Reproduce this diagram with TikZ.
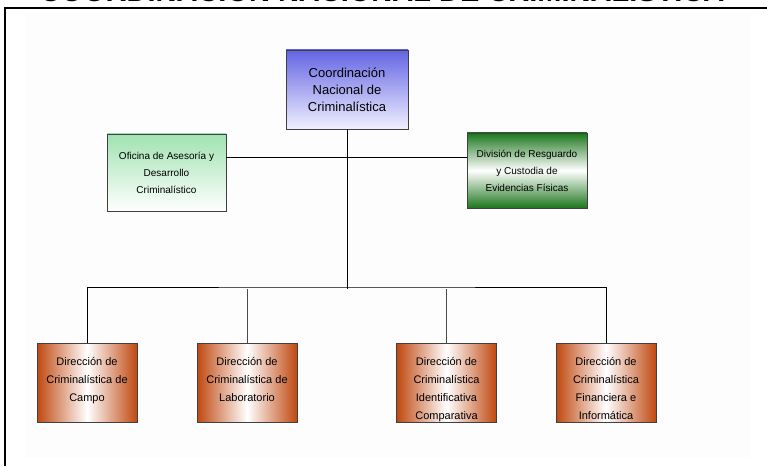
\documentclass[tikz,border=0pt]{standalone}
\usepackage{fontspec}
\setmainfont{Liberation Sans}
\definecolor{azul}{RGB}{100,100,228}
\definecolor{azulclaro}{RGB}{240,240,255}
\definecolor{verdeclaro}{RGB}{160,226,176}
\definecolor{verdeoscuro}{RGB}{28,118,28}
\definecolor{ladrillo}{RGB}{192,72,16}
\begin{document}
\begin{tikzpicture}[x=1pt,y=1pt,
caja/.style={draw=black!75,line width=0.8pt,align=center,inner sep=0pt},
dir/.style={caja,left color=ladrillo,right color=ladrillo,middle color=white,minimum width=100,minimum height=79},
dtxt/.style={anchor=north,yshift=-15,align=center,inner sep=0pt,font=\fontsize{11}{18}\selectfont}]
\useasboundingbox (0,0) rectangle (767,466);
\fill[black!0.7] (25,8) rectangle (750,451);
\draw[line width=2pt] (5,0) -- (5,458) -- (767,458);
\node[anchor=base,font=\bfseries\fontsize{29}{29}\selectfont] (titulo) at (382,464) {COORDINACIÓN NACIONAL DE CRIMINALÍSTICA};
\node[caja,top color=azul,bottom color=azulclaro,minimum width=122,minimum height=79,font=\fontsize{13}{17}\selectfont] (coord) at (347,376.5) {Coordinación\\Nacional de\\Criminalística};
\node[caja,top color=verdeclaro,bottom color=white,minimum width=119,minimum height=77,font=\fontsize{10}{17}\selectfont] (ofic) at (166.5,293.5) {Oficina de Asesoría y\\Desarrollo\\Criminalístico};
\node[caja,top color=verdeoscuro,bottom color=verdeoscuro,middle color=white,minimum width=120,minimum height=75,font=\fontsize{10}{17}\selectfont] (divi) at (527,295.5) {División de Resguardo\\y Custodia de\\Evidencias Físicas};
\foreach \n/\x/\t in {d1/87/{Dirección de\\Criminalística de\\Campo},
  d2/247/{Dirección de\\Criminalística de\\Laboratorio},
  d3/446.5/{Dirección de\\Criminalística\\Identificativa\\Comparativa},
  d4/606/{Dirección de\\Criminalística\\Financiera e\\Informática}}
\node[dir,label={[dtxt]north:\t}] (\n) at (\x,83.5) {};
\coordinate (cruce) at (347,309);
\coordinate (bus) at (347,179);
\draw[line width=0.8pt] (ofic.east |- cruce) -- (divi.west |- cruce);
\draw[line width=0.8pt] (coord.south) -- ([yshift=-2]bus);
\draw[line width=0.8pt] (d1.north) |- (bus) -| (d4.north);
\draw[line width=0.8pt,black!70] (d2.north) -- ([yshift=-2]d2.north |- bus);
\draw[line width=0.8pt,black!70] (d3.north) -- ([yshift=-2]d3.north |- bus);
\end{tikzpicture}
\end{document}
